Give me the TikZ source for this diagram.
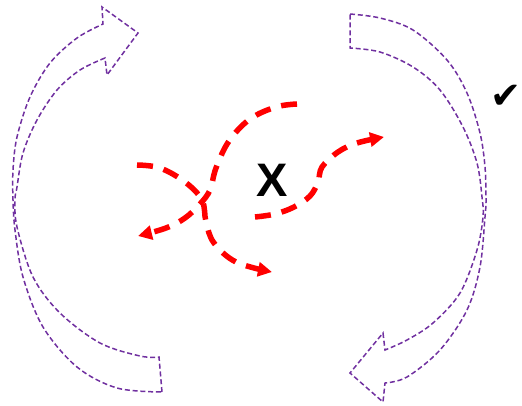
\documentclass[tikz,border=0pt]{standalone}
\usepackage{fontspec}
\setmainfont{Liberation Sans}
\newfontfamily\symfont{DejaVu Sans}
\usetikzlibrary{arrows.meta}
\definecolor{purp}{HTML}{7030A0}
\definecolor{redc}{HTML}{FF0000}
\tikzset{
  blockarrow/.style={draw=purp, line width=1.5pt, dash pattern=on 5pt off 2.8pt, line join=miter},
  redpath/.style={draw=redc, line width=5.5pt, dash pattern=on 16pt off 11pt,
     -{Triangle[length=14pt,width=14pt]}},
  lbl/.style={inner sep=0pt, font=\bfseries\fontsize{47}{47}\selectfont}
}
\begin{document}
\begin{tikzpicture}[x=1pt,y=-1pt]
\useasboundingbox (0,0) rectangle (522,405);
% left curved block arrow
\draw[blockarrow] (162,392) -- plot[smooth,tension=0.55] coordinates {(159,357) (140,356) (100,343) (60,313) (33,277) (17,227) (15,200) (17,187) (23,153) (37,120) (57,90) (80,70) (105,58)}
  -- (107,75) -- (138,33) -- (102,7) --
  plot[smooth,tension=0.55] coordinates {(103,24) (77,38) (50,63) (30,97) (17,137) (13,170) (13,200) (15,230) (23,277) (43,327) (77,367) (117,388) (162,392)} -- cycle;
% right curved block arrow
\draw[blockarrow] (350,14) -- plot[smooth,tension=0.55] coordinates {(350,14) (380,18) (413,30) (447,60) (467,93) (480,133) (485,167) (486,200) (485,217) (480,267) (467,310) (440,350) (407,377) (385,383)}
  -- (383,402) -- (350,373) -- (383,333) --
  plot[smooth,tension=0.55] coordinates {(385,350) (407,340) (433,323) (460,293) (477,250) (483,217) (482,197) (477,163) (463,127) (440,90) (413,67) (380,52) (350,48)} -- cycle;
% red dashed paths
\coordinate (s1) at (137,165);
\coordinate (e1) at (272,272);
\coordinate (s2) at (297,104);
\coordinate (e2) at (138,236);
\coordinate (s3) at (255,217);
\coordinate (e3) at (384,137);
\draw[redpath] plot[smooth,tension=0.6] coordinates {(s1) (160,168) (185,182) (202,200) (206,222) (214,243) (236,262) (e1)};
\draw[redpath] plot[smooth,tension=0.6] coordinates {(s2) (276,107) (250,119) (229,141) (216,168) (210,190) (200,204) (185,218) (166,228) (e2)};
\draw[redpath] plot[smooth,tension=0.6] coordinates {(s3) (275,214) (294,207) (310,196) (318,182) (322,167) (338,152) (357,143) (e3)};
% labels
\node[inner sep=0pt] (x) at (272,180) [lbl] {X};
\node[inner sep=0pt, anchor=east, font=\symfont\fontsize{37}{37}\selectfont] (chk) at (522,97) {✔};
\end{tikzpicture}
\end{document}
